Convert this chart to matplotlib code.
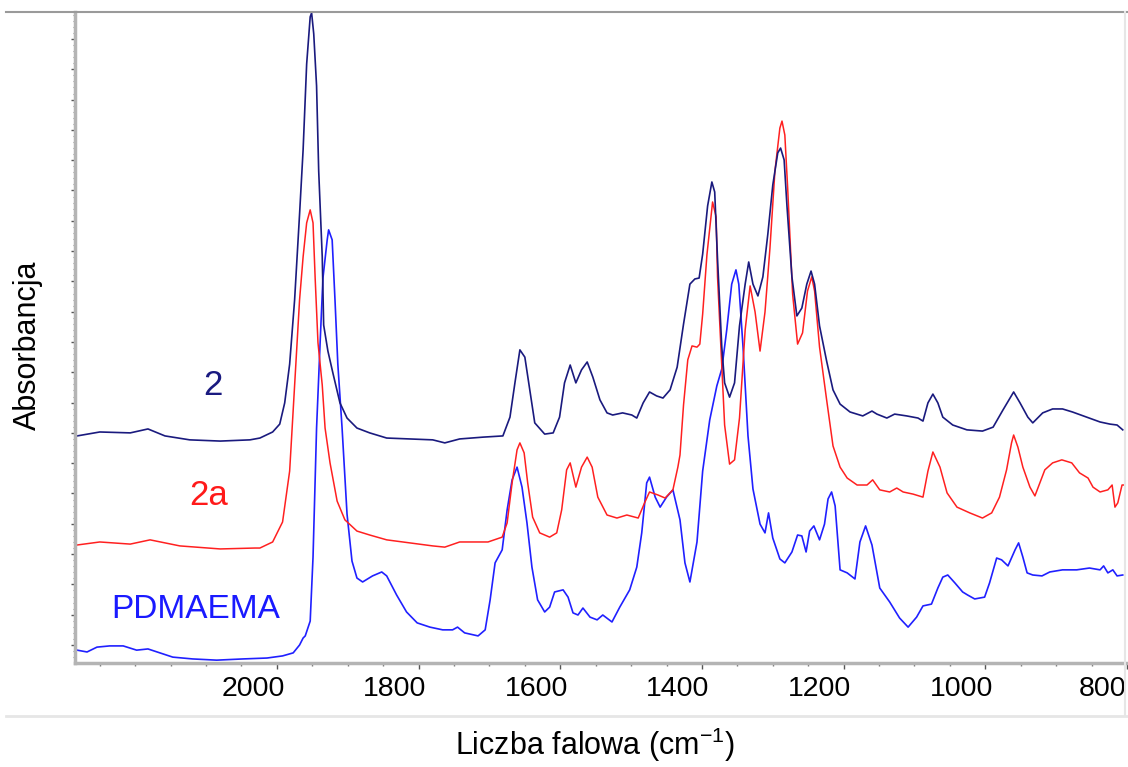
import matplotlib
matplotlib.use("Agg")
import matplotlib.pyplot as plt
import matplotlib.transforms as mtransforms
from matplotlib.lines import Line2D
from matplotlib.ticker import MultipleLocator

plt.rcParams['font.family'] = ['Liberation Sans', 'DejaVu Sans']

# spectrum "2" (navy)
wn_2 = [2282, 2250, 2207, 2182, 2158, 2123, 2080, 2038, 2024, 2006, 1996, 1989, 1982, 1975, 1968,
        1963, 1958, 1953, 1951, 1948, 1944, 1941, 1936, 1934, 1928, 1921, 1911, 1901, 1887, 1869,
        1845, 1812, 1780, 1763, 1742, 1709, 1681, 1671, 1664, 1657, 1650, 1643, 1636, 1622, 1610,
        1601, 1594, 1586, 1578, 1570, 1562, 1554, 1544, 1534, 1526, 1512, 1499, 1492, 1483, 1474,
        1464, 1455, 1445, 1435, 1426, 1417, 1410, 1404, 1399, 1392, 1386, 1382, 1378, 1372, 1368,
        1361, 1354, 1347, 1339, 1334, 1328, 1321, 1314, 1307, 1300, 1293, 1289, 1284, 1280, 1273,
        1266, 1259, 1252, 1246, 1241, 1234, 1224, 1215, 1205, 1191, 1173, 1160, 1153, 1139, 1128,
        1111, 1095, 1088, 1081, 1074, 1067, 1060, 1046, 1026, 1004, 989, 975, 965, 960, 951,
        940, 933, 919, 905, 891, 877, 857, 838, 824, 814, 806]
abs_2 = [0.690, 0.703, 0.700, 0.713, 0.690, 0.677, 0.673, 0.677, 0.683, 0.703, 0.729, 0.799, 0.927, 1.139, 1.422,
         1.634, 1.917, 2.073, 2.086, 2.017, 1.845, 1.564, 1.281, 1.056, 0.970, 0.898, 0.799, 0.749, 0.716, 0.700,
         0.683, 0.680, 0.677, 0.667, 0.680, 0.686, 0.690, 0.752, 0.865, 0.974, 0.950, 0.842, 0.733, 0.696, 0.700,
         0.752, 0.865, 0.924, 0.865, 0.908, 0.934, 0.884, 0.809, 0.766, 0.759, 0.766, 0.759, 0.749, 0.799, 0.835,
         0.822, 0.815, 0.842, 0.917, 1.059, 1.191, 1.208, 1.211, 1.290, 1.449, 1.528, 1.495, 1.274, 0.983, 0.865,
         0.818, 0.865, 1.053, 1.191, 1.264, 1.191, 1.152, 1.215, 1.356, 1.518, 1.624, 1.640, 1.601, 1.449, 1.215,
         1.086, 1.112, 1.191, 1.234, 1.191, 1.053, 0.937, 0.842, 0.795, 0.769, 0.756, 0.772, 0.762, 0.749, 0.762,
         0.756, 0.749, 0.739, 0.799, 0.828, 0.799, 0.752, 0.726, 0.710, 0.706, 0.719, 0.776, 0.815, 0.835, 0.799,
         0.752, 0.733, 0.766, 0.779, 0.779, 0.769, 0.752, 0.736, 0.729, 0.726, 0.710]

# spectrum "2a" (red)
wn_2a = [2282, 2250, 2207, 2179, 2137, 2080, 2031, 2024, 2006, 1992, 1982, 1975, 1968, 1963, 1958,
         1953, 1949, 1946, 1942, 1936, 1932, 1925, 1915, 1904, 1887, 1869, 1845, 1812, 1780, 1763,
         1742, 1702, 1682, 1675, 1668, 1661, 1657, 1651, 1646, 1639, 1629, 1615, 1605, 1598, 1591,
         1586, 1578, 1570, 1562, 1555, 1547, 1534, 1520, 1506, 1490, 1481, 1474, 1462, 1452, 1441,
         1434, 1431, 1426, 1420, 1414, 1407, 1403, 1399, 1393, 1385, 1380, 1378, 1372, 1368, 1361,
         1354, 1347, 1339, 1332, 1325, 1318, 1311, 1304, 1297, 1290, 1287, 1283, 1279, 1272, 1265,
         1258, 1251, 1245, 1241, 1234, 1224, 1215, 1205, 1195, 1181, 1167, 1159, 1149, 1135, 1125,
         1116, 1102, 1088, 1081, 1074, 1064, 1054, 1040, 1022, 1004, 991, 980, 970, 963, 960,
         954, 947, 937, 930, 923, 916, 905, 892, 878, 867, 855, 848, 838, 827, 821,
         817, 813, 807, 805]
abs_2a = [0.330, 0.340, 0.333, 0.347, 0.327, 0.317, 0.320, 0.320, 0.340, 0.406, 0.574, 0.858, 1.139, 1.281, 1.393,
          1.436, 1.393, 1.211, 0.997, 0.858, 0.716, 0.601, 0.475, 0.413, 0.376, 0.363, 0.347, 0.337, 0.327, 0.323,
          0.340, 0.340, 0.356, 0.403, 0.535, 0.644, 0.667, 0.634, 0.535, 0.422, 0.370, 0.356, 0.370, 0.446, 0.578,
          0.601, 0.521, 0.587, 0.620, 0.587, 0.488, 0.429, 0.419, 0.429, 0.419, 0.469, 0.505, 0.495, 0.485, 0.512,
          0.587, 0.627, 0.792, 0.941, 0.987, 0.983, 0.993, 1.092, 1.287, 1.462, 1.413, 1.215, 0.924, 0.726, 0.597,
          0.611, 0.749, 1.040, 1.185, 1.099, 0.970, 1.099, 1.310, 1.564, 1.706, 1.729, 1.683, 1.508, 1.158, 0.993,
          1.030, 1.168, 1.215, 1.168, 0.983, 0.809, 0.657, 0.587, 0.551, 0.528, 0.528, 0.545, 0.512, 0.505, 0.518,
          0.505, 0.498, 0.488, 0.574, 0.637, 0.587, 0.502, 0.455, 0.436, 0.419, 0.436, 0.488, 0.578, 0.667, 0.693,
          0.653, 0.587, 0.521, 0.492, 0.535, 0.578, 0.601, 0.611, 0.601, 0.568, 0.551, 0.521, 0.505, 0.512, 0.528,
          0.455, 0.469, 0.528, 0.528]

# PDMAEMA (blue)
wn_pd = [2282, 2268, 2254, 2236, 2217, 2198, 2182, 2165, 2147, 2119, 2085, 2048, 2014, 1992, 1977,
         1968, 1963, 1960, 1953, 1949, 1944, 1939, 1935, 1929, 1927, 1922, 1918, 1914, 1908, 1901,
         1894, 1887, 1879, 1865, 1852, 1845, 1831, 1817, 1802, 1784, 1766, 1752, 1745, 1735, 1716,
         1706, 1699, 1692, 1682, 1675, 1668, 1661, 1654, 1647, 1640, 1632, 1622, 1615, 1608, 1596,
         1589, 1582, 1575, 1568, 1558, 1548, 1540, 1527, 1516, 1502, 1492, 1485, 1478, 1474, 1466,
         1459, 1450, 1441, 1431, 1424, 1417, 1407, 1399, 1389, 1379, 1372, 1365, 1358, 1352, 1348,
         1342, 1335, 1328, 1318, 1311, 1306, 1300, 1290, 1283, 1273, 1265, 1259, 1253, 1248, 1242,
         1234, 1227, 1222, 1217, 1212, 1205, 1195, 1184, 1177, 1169, 1160, 1149, 1135, 1121, 1109,
         1097, 1088, 1076, 1067, 1060, 1053, 1043, 1032, 1025, 1015, 1001, 994, 984, 977, 968,
         958, 953, 947, 941, 933, 920, 909, 891, 871, 853, 838, 833, 827, 820, 814, 806]
abs_pd = [-0.017, -0.023, -0.007, -0.003, -0.003, -0.017, -0.013, -0.026, -0.040, -0.046, -0.050, -0.046, -0.043, -0.036, -0.026,
          0.000, 0.023, 0.030, 0.079, 0.290, 0.716, 0.997, 1.211, 1.337, 1.370, 1.337, 1.139, 0.927, 0.716, 0.432,
          0.277, 0.221, 0.208, 0.228, 0.241, 0.228, 0.165, 0.109, 0.073, 0.059, 0.050, 0.050, 0.059, 0.040, 0.030,
          0.050, 0.149, 0.271, 0.314, 0.446, 0.545, 0.587, 0.521, 0.403, 0.257, 0.149, 0.109, 0.125, 0.175, 0.182,
          0.158, 0.106, 0.099, 0.122, 0.092, 0.083, 0.099, 0.076, 0.125, 0.182, 0.257, 0.370, 0.535, 0.554, 0.488,
          0.455, 0.488, 0.512, 0.413, 0.271, 0.208, 0.340, 0.574, 0.743, 0.855, 0.911, 1.040, 1.191, 1.238, 1.191,
          0.983, 0.690, 0.515, 0.399, 0.370, 0.436, 0.353, 0.284, 0.271, 0.307, 0.363, 0.360, 0.307, 0.376, 0.393,
          0.347, 0.399, 0.482, 0.505, 0.459, 0.248, 0.238, 0.218, 0.340, 0.393, 0.330, 0.188, 0.142, 0.089, 0.059,
          0.092, 0.129, 0.135, 0.188, 0.224, 0.231, 0.205, 0.175, 0.165, 0.152, 0.158, 0.205, 0.287, 0.281, 0.261,
          0.314, 0.337, 0.290, 0.238, 0.231, 0.228, 0.241, 0.248, 0.248, 0.254, 0.248, 0.261, 0.238, 0.248, 0.228, 0.231]

tick_values = [2000, 1800, 1600, 1400, 1200, 1000, 800]
tick_labels = ['2000', '1800', '1600', '1400', '1200', '1000', '800']

fig = plt.figure(figsize=(11.28, 7.67), dpi=100)
ax = fig.add_axes([75/1128, 1-663/767, (1127-75)/1128, (663-12)/767])

ax.plot(wn_pd, abs_pd, color='#2020ff', lw=1.2, solid_joinstyle='round')
ax.plot(wn_2a, abs_2a, color='#ff2020', lw=1.1, solid_joinstyle='round')
ax.plot(wn_2, abs_2, color='#1a1a7e', lw=1.2, solid_joinstyle='round')

ax.set_xlim(2285, 800)
ax.set_ylim(-0.0594, 2.089)

for s in ['top', 'right']:
    ax.spines[s].set_visible(False)
for s in ['left', 'bottom']:
    ax.spines[s].set_color('#b4b4b4')
    ax.spines[s].set_linewidth(2.5)

ax.set_xticks(tick_values, tick_labels)
ax.xaxis.set_minor_locator(MultipleLocator(50))
ax.yaxis.set_major_locator(MultipleLocator(0.1))
ax.yaxis.set_minor_locator(MultipleLocator(0.02))
ax.tick_params(axis='x', which='major', length=4.5, width=1, color='#555555',
               labelsize=20.5, pad=5)
ax.tick_params(axis='x', which='minor', length=2.5, width=1, color='#777777')
ax.tick_params(axis='y', which='major', length=3, width=1, color='#555555', labelleft=False)
ax.tick_params(axis='y', which='minor', length=1.5, width=0.8, color='#888888')

# tick labels sit a little left of their tick marks in the original
shift = mtransforms.ScaledTranslation(-0.24, 0, fig.dpi_scale_trans)
for lab in ax.get_xticklabels():
    lab.set_transform(lab.get_transform() + shift)

ax.text(2090, 0.858, '2', color='#1a1a80', fontsize=25, ha='center', va='center')
ax.text(2097, 0.492, '2a', color='#ff1a1a', fontsize=25, ha='center', va='center')
ax.text(2114, 0.116, 'PDMAEMA', color='#1a1aff', fontsize=24, ha='center', va='center')

fig.text(28/1128, 1-345/767, 'Absorbancja', rotation=90, fontsize=22,
         ha='center', va='center')
fig.text(595/1128, 1-745/767, 'Liczba falowa (cm$^{\\mathregular{-1}}$)', fontsize=22,
         ha='center', va='center')

# frame lines around the pasted picture
fig.add_artist(Line2D([6/1128, 1], [1-12/767, 1-12/767], color='#9a9a9a', lw=1.5))
fig.add_artist(Line2D([1125/1128, 1125/1128], [1-12/767, 1-716/767], color='#e6e6e6', lw=1.5))
fig.add_artist(Line2D([6/1128, 1127/1128], [1-716/767, 1-716/767], color='#e6e6e6', lw=2))

fig.savefig('out.png', dpi=100)
